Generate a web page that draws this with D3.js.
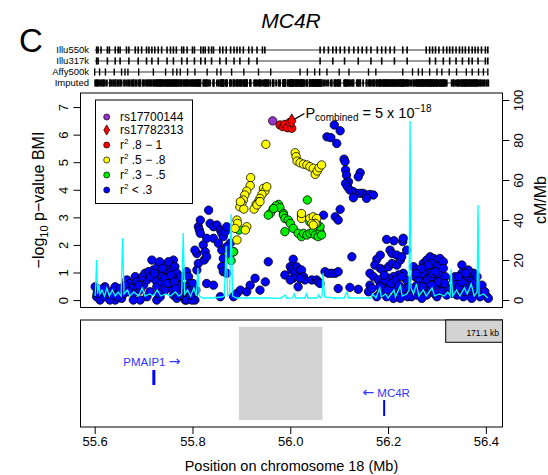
<!DOCTYPE html>
<html><head><meta charset="utf-8">
<script src="https://cdn.jsdelivr.net/npm/d3@7"></script>
<style>
html,body{margin:0;padding:0;background:#fff;}
svg{display:block;font-family:"Liberation Sans",Arial,Helvetica,sans-serif;}
</style></head>
<body>
<svg id="chart" width="548" height="475"></svg>
<script>
// ---------------- DATA ----------------
const title = "MC4R";
const panelLetter = "C";
const yTicks = [0,1,2,3,4,5,6,7];
const rateTicks = [0,20,40,60,80,100];
const xTicks = [55.6,55.8,56.0,56.2,56.4];
const legendLabels = ["rs17700144","rs17782313",".8 − 1",".5 − .8",".3 − .5","< .3"];
const trackNames = ["Illu550k","Illu317k","Affy500k","Imputed"];

// SNPs by LD class: [position Mb, -log10 p]
const snpBlue = [
[55.601,0.48],[55.608,0.36],[55.604,0.12],[55.611,0.00],[55.618,0.12],[55.625,0.30],[55.631,0.12],[55.638,0.36],[55.642,0.48],[55.649,0.24],
[55.655,0.06],[55.666,0.73],[55.672,0.60],[55.676,0.42],[55.679,0.24],[55.683,0.85],[55.686,0.66],[55.693,0.36],[55.700,0.54],[55.707,0.73],
[55.717,1.45],[55.720,1.09],[55.724,0.73],[55.727,0.48],[55.734,0.97],[55.737,0.66],[55.741,0.42],[55.747,1.03],[55.751,0.85],[55.754,1.15],
[55.758,1.33],[55.761,1.45],[55.764,1.21],[55.768,0.97],[55.771,0.73],[55.775,0.54],[55.778,0.30],[55.781,0.12],[55.785,0.00],[55.747,1.27],
[55.751,1.39],[55.744,0.36],[55.758,0.42],[55.761,0.18],[55.768,0.06],[55.788,1.03],[55.792,0.85],[55.795,0.60],[55.799,0.42],[55.802,0.24],
[55.805,0.00],[55.809,1.09],[55.812,1.33],[55.809,1.69],[55.805,1.81],[55.812,2.66],[55.816,2.90],[55.814,2.54],[55.816,2.42],[55.822,2.00],
[55.826,1.75],[55.824,1.45],[55.829,1.57],[55.833,3.26],[55.836,2.78],[55.843,2.66],[55.850,2.72],[55.857,2.54],[55.860,2.42],[55.863,2.30],
[55.867,2.48],[55.870,2.66],[55.829,2.24],[55.843,2.24],[55.853,2.06],[55.860,1.81],[55.863,1.51],[55.877,1.69],[55.884,1.75],[55.877,2.06],
[55.870,1.93],[55.860,1.21],[55.863,1.03],[55.870,0.97],[55.884,0.12],[55.891,0.24],[55.898,0.36],[55.911,0.30],[55.918,0.54],[55.928,0.79],
[55.938,0.36],[55.949,0.66],[55.955,1.39],[55.829,0.60],[55.843,0.54],[55.857,0.12],[55.788,0.00],[55.799,0.00],[55.727,0.00],[55.734,0.12],
[55.707,0.12],[55.693,0.00],[55.679,0.00],[55.642,0.00],[55.631,0.00],[55.614,0.30],[55.621,0.48],[55.646,0.12],[55.660,0.24],[55.690,0.54],
[55.713,0.30],[55.731,0.24],[55.754,0.60],[55.738,0.85],[55.772,0.18],
[55.698,0.85],[55.703,0.97],[55.710,1.03],[55.714,0.85],[55.722,0.97],[55.729,1.21],[55.733,1.39],[55.739,1.15],[55.744,0.79],[55.749,0.60],
[55.756,0.90],[55.763,0.66],[55.766,0.42],[55.776,0.85],[55.783,0.48],[55.790,0.30],[55.796,0.18],[55.801,0.60],[55.807,0.36],[55.662,0.54],
[55.669,0.30],[55.652,0.42],[55.635,0.18],[55.617,0.42],[55.605,0.24],
[56.006,1.48],[56.000,1.21],[56.003,1.09],[56.006,1.15],[56.010,1.03],[56.013,1.21],[56.020,1.09],[56.023,1.09],[56.027,0.85],[56.030,0.73],
[56.020,0.79],[56.006,0.79],[55.989,0.91],[56.000,0.73],[56.016,0.48],[56.044,0.73],[56.054,0.73],[56.057,0.66],[56.061,0.60],[56.071,1.03],
[56.078,0.97],[56.085,0.97],[56.092,0.97],[56.098,1.03],[56.098,0.42],[56.122,0.46],[56.139,0.39],[56.163,0.54],[56.160,0.30],[56.167,0.42],
[56.126,1.57],[56.068,3.08],[56.092,3.02],[56.098,2.90],[56.102,3.29],
[56.090,6.35],[56.102,6.14],[56.075,5.92],[56.083,5.89],[56.095,5.68],[56.110,5.11],[56.112,5.02],[56.113,4.72],[56.115,4.53],[56.119,4.29],
[56.113,4.23],[56.117,4.11],[56.122,3.99],[56.129,3.93],[56.136,3.87],[56.143,3.87],[56.149,3.87],[56.156,3.81],[56.163,3.83],[56.170,3.81],
[56.129,3.71],[56.156,3.69],[56.143,4.62],[56.139,4.47],
[56.163,0.97],[56.170,0.85],[56.177,1.48],[56.173,1.27],[56.184,1.63],[56.184,1.15],[56.190,1.09],[56.197,2.20],[56.201,1.21],[56.204,1.81],
[56.208,1.69],[56.208,1.33],[56.212,2.15],[56.218,1.63],[56.218,1.27],[56.225,1.45],[56.228,1.57],[56.230,2.12],[56.231,2.24],[56.238,1.81],
[56.180,0.73],[56.187,0.60],[56.194,0.54],[56.204,0.48],[56.214,0.36],[56.225,0.30],[56.235,0.24],[56.245,0.30],[56.238,0.73],[56.231,0.97],
[56.221,0.91],[56.211,0.85],[56.201,0.79],[56.194,0.73],[56.190,0.42],[56.184,0.24],[56.177,0.12],[56.197,0.12],[56.211,0.06],[56.225,0.06],
[56.183,0.48],[56.192,0.90],[56.199,0.36],[56.207,0.60],[56.216,0.73],[56.222,0.54],[56.228,0.85],[56.233,0.42],[56.240,0.12],[56.248,0.12],
[56.242,0.48],
[56.252,1.21],[56.259,1.09],[56.265,1.03],[56.272,1.33],[56.279,1.45],[56.286,1.57],[56.293,1.51],[56.300,1.45],[56.306,1.51],[56.313,1.39],
[56.300,1.21],[56.286,1.09],[56.279,0.97],[56.272,0.85],[56.265,0.66],[56.259,0.54],[56.252,0.42],[56.259,0.18],[56.272,0.36],[56.283,0.60],
[56.293,0.73],[56.300,0.85],[56.306,0.91],[56.313,1.15],[56.306,0.54],[56.296,0.42],[56.286,0.30],[56.279,0.18],[56.269,0.06],[56.300,0.12],
[56.313,0.36],[56.310,0.73],[56.317,0.85],[56.276,1.21],[56.289,1.33],
[56.255,0.85],[56.262,0.79],[56.268,0.97],[56.275,0.60],[56.281,0.73],[56.288,0.85],[56.291,0.97],[56.297,1.03],[56.303,0.66],[56.309,0.30],
[56.316,0.60],[56.320,0.18],[56.262,0.30],[56.270,0.48],[56.289,0.54],[56.295,0.24],[56.282,1.27],[56.268,1.15],[56.257,0.97],
[56.351,1.27],[56.375,0.97],[56.334,0.73],[56.341,0.60],[56.354,0.73],[56.361,0.85],[56.368,0.66],[56.378,0.54],[56.385,0.48],[56.347,0.36],
[56.358,0.42],[56.368,0.30],[56.381,0.24],[56.395,0.24],[56.402,0.12],[56.341,0.18],[56.354,0.12],[56.371,0.06],[56.330,0.42],[56.361,0.54],
[56.337,0.85],[56.388,0.12],[56.375,0.73],[56.351,0.97],[56.364,1.09],[56.381,0.42],[56.405,0.06],
[56.333,0.24],[56.345,0.48],[56.350,0.66],[56.357,0.30],[56.365,0.42],[56.372,0.54],[56.379,0.66],[56.389,0.36],[56.392,0.54],[56.398,0.30],
[56.344,0.85],[56.359,0.97],[56.382,0.85]
];
const snpGreen = [
[56.035,3.63],[55.976,3.47],[55.971,3.42],[55.979,3.35],[55.965,3.30],[55.959,3.14],[55.986,3.14],[55.986,3.08],[55.989,2.96],[55.996,2.90],
[56.000,2.78],[55.989,2.48],[56.006,2.60],[56.016,2.42],[56.023,2.30],[56.027,2.42],[56.034,2.36],[56.040,2.42],[56.047,2.48],[56.051,2.36],
[56.057,2.30],[56.061,2.48],[56.064,2.36],[56.061,2.66],[56.054,2.78],[56.047,2.90],[56.040,2.84],[55.884,1.75],[55.879,1.43],[55.895,2.54],
[55.955,3.08],[55.966,3.32]
];
const snpYellow = [
[55.950,5.65],[56.010,5.34],[56.012,5.20],[56.014,5.04],[56.020,4.98],[56.027,4.93],[56.034,4.90],[56.040,4.84],[56.047,4.78],[56.051,4.56],
[56.055,4.68],[56.059,4.80],[56.064,4.90],[55.919,4.44],[55.918,4.15],[55.911,3.95],[55.907,3.81],[55.904,3.63],[55.901,3.51],[55.897,3.38],
[55.905,3.30],[55.945,4.05],[55.948,3.95],[55.942,3.83],[55.938,3.69],[55.935,3.57],[55.930,3.47],[55.926,3.30],[55.952,4.11],[55.891,2.90],
[55.892,2.78],[55.911,2.66],[55.908,2.54],[55.891,2.18],[55.898,3.57],[55.932,3.45],[55.938,3.57],[55.887,2.60],[56.023,3.08],[56.023,2.96],
[56.040,2.96],[56.047,3.02],[56.054,2.96],[56.051,2.78],[56.044,2.78],[56.047,2.72],[56.023,3.14]
];
const snpRed = [[55.979,6.35],[55.985,6.29],[55.989,6.37],[55.994,6.25],[55.999,6.44],[56.003,6.23]];
const snpTop = [56.003,6.49];      // rs17782313 (diamond)
const snpPurple = [55.964,6.50];   // rs17700144
const annotation = {from:[56.003,6.49], to:[56.031,6.62]};

// Recombination rate: [position Mb, cM/Mb]
const recomb = [
[55.601,2],[55.604,20],[55.606,3],[55.609,8],[55.611,3],[55.615,5],[55.620,2],[55.625,6],[55.630,2],[55.636,5],[55.642,2],[55.648,4],[55.654,2],
[55.657,31],[55.660,3],[55.667,5],[55.672,2],[55.680,4],[55.690,2],[55.697,6],[55.703,2],[55.712,3],[55.720,2],[55.728,5],[55.735,2],[55.745,3],
[55.755,2],[55.765,4],[55.772,2],[55.778,3],[55.781,33.5],[55.784,3],[55.790,5],[55.796,2],[55.803,6],[55.808,2],[55.811,16],[55.814,2],[55.820,1],
[55.840,1],[55.860,1.5],[55.865,2],[55.869,27],[55.872,2],[55.876,3],[55.879,43],[55.882,2],[55.890,1],[55.920,1],[55.950,1],[55.980,0.8],[55.990,2.5],
[55.993,0.8],[56.005,1],[56.008,3],[56.011,1],[56.030,1],[56.033,3],[56.036,1],[56.055,1],[56.058,2.5],[56.061,1],[56.065,2],[56.067,13.5],[56.070,1.5],
[56.090,1],[56.110,1],[56.116,4],[56.119,1],[56.150,1],[56.165,1],[56.168,3],[56.175,1],[56.183,6],[56.186,1.5],[56.195,3],[56.200,1],[56.212,5],
[56.215,1.5],[56.225,7],[56.229,2],[56.238,3],[56.243,5],[56.245,89.5],[56.247,6],[56.252,3],[56.258,8],[56.263,2],[56.272,5],[56.278,2],[56.290,6],
[56.295,2],[56.305,3],[56.315,2],[56.322,4],[56.327,2],[56.329,15.5],[56.332,2],[56.340,5],[56.347,2],[56.356,6],[56.362,3],[56.370,8],[56.376,2],
[56.382,4],[56.384,47.5],[56.386,2],[56.395,3],[56.404,1]
];

// Genotyping platform coverage (SNP positions, Mb)
const illu550k = [55.604,55.607,55.613,55.626,55.630,55.642,55.648,55.652,55.665,55.670,55.683,55.689,55.696,55.706,55.711,55.717,55.723,55.730,55.737,
55.748,55.755,55.761,55.767,55.778,55.782,55.789,55.800,55.804,55.817,55.822,55.826,55.833,55.839,55.843,55.856,55.862,55.869,55.878,55.885,55.891,
55.897,55.904,55.915,55.922,55.932,55.943,55.948,56.061,56.069,56.078,56.087,56.094,56.102,56.111,56.120,56.130,56.139,56.147,56.156,56.165,56.178,
56.187,56.195,56.204,56.213,56.230,56.239,56.278,56.285,56.291,56.297,56.304,56.313,56.320,56.326,56.332,56.339,56.346,56.352,56.358,56.365,56.372,
56.378,56.384,56.391,56.399,56.404];
const illu317k = [55.604,55.607,55.626,55.642,55.652,55.670,55.689,55.706,55.717,55.730,55.748,55.761,55.778,55.789,55.804,55.817,55.826,55.839,55.856,
55.869,55.885,55.897,55.915,55.932,56.061,56.087,56.111,56.139,56.165,56.187,56.213,56.239,56.285,56.297,56.313,56.326,56.339,56.352,56.365,56.372,
56.384,56.399,56.404];
const affy500k = [55.600,55.610,55.622,55.640,55.655,55.662,55.668,55.690,55.720,55.745,55.760,55.768,55.775,55.790,55.805,55.830,55.850,55.858,55.880,
55.905,55.935,55.960,56.020,56.035,56.050,56.060,56.075,56.100,56.120,56.160,56.175,56.230,56.250,56.262,56.270,56.285,56.300,56.310,56.325,56.340,
56.360,56.372,56.385,56.395,56.404];

// Gene panel
const genes = [{name:"PMAIP1", pos:55.721, strand:"+", row:0},{name:"MC4R", pos:56.192, strand:"-", row:1}];
const ldRegion = [55.895, 56.066];
const regionLabel = "171.1 kb";

// ---------------- DRAWING ----------------
const svg = d3.select("#chart");
const L = 80.5, R = 502.5, T = 93, B = 307.5, GT = 320, GB = 427;
const x = d3.scaleLinear().domain([55.571, 56.434]).range([L, R]);
const y = d3.scaleLinear().domain([-0.27, 7.51]).range([B, T]);
const yr = d3.scaleLinear().domain([-3.75, 103.5]).range([B, T]);

// panel letter and title
svg.append("text").attr("x",19).attr("y",52).attr("font-size",33).text(panelLetter);
svg.append("text").attr("x",291).attr("y",28).attr("text-anchor","middle").attr("font-size",21)
  .attr("font-style","italic").text(title);

// tracks
const allSnps = [...snpBlue,...snpGreen,...snpYellow,...snpRed,snpTop,snpPurple].map(d=>d[0]);
const trackData = [illu550k, illu317k, affy500k, allSnps];
const trackY = [50, 61, 72, 83];
const trackW = [1.6, 1.6, 1.4, 1.8];
trackData.forEach((arr,i)=>{
  const g = svg.append("g");
  g.append("text").attr("x",89).attr("y",trackY[i]+3.3).attr("text-anchor","end").attr("font-size",9.5).text(trackNames[i]);
  g.append("line").attr("x1",x(55.600)).attr("x2",x(56.404)).attr("y1",trackY[i]).attr("y2",trackY[i]).attr("stroke","#000").attr("stroke-width",0.8);
  g.selectAll("line.t").data(arr).join("line").attr("class","t")
    .attr("x1",d=>x(d)).attr("x2",d=>x(d)).attr("y1",trackY[i]-3.6).attr("y2",trackY[i]+3.6)
    .attr("stroke","#000").attr("stroke-width",trackW[i]);
});

// main panel clip
svg.append("clipPath").attr("id","clipMain").append("rect").attr("x",L).attr("y",T).attr("width",R-L).attr("height",B-T);
const main = svg.append("g").attr("clip-path","url(#clipMain)");

function drawPts(data, fill){
  main.append("g").selectAll("circle").data(data).join("circle")
    .attr("cx",d=>x(d[0])).attr("cy",d=>y(d[1])).attr("r",4.2)
    .attr("fill",fill).attr("stroke","#000").attr("stroke-width",0.8);
}
drawPts(snpBlue, "#0000ff");
drawPts(snpGreen, "#00ee00");
drawPts(snpYellow, "#ffff00");
drawPts(snpRed, "#ff0000");
drawPts([snpPurple], "#9932cc");
main.append("path").attr("d", d3.symbol(d3.symbolDiamond, 60)())
  .attr("transform",`translate(${x(snpTop[0])},${y(snpTop[1])})`).attr("fill","#ff0000").attr("stroke","#000").attr("stroke-width",0.8);

// recombination line
main.append("path").datum(recomb)
  .attr("d", d3.line().x(d=>x(d[0])).y(d=>yr(d[1])))
  .attr("fill","none").attr("stroke","#00ffff").attr("stroke-width",1.3);

// panel border
svg.append("rect").attr("x",L).attr("y",T).attr("width",R-L).attr("height",B-T).attr("fill","none").attr("stroke","#000").attr("stroke-width",1);

// annotation
svg.append("line").attr("x1",x(annotation.from[0])+3).attr("y1",y(annotation.from[1])-2)
  .attr("x2",x(annotation.to[0])-1).attr("y2",y(annotation.to[1])-4).attr("stroke","#000").attr("stroke-width",1.2);
const at = svg.append("text").attr("x",x(annotation.to[0])).attr("y",y(annotation.to[1])).attr("font-size",14.5);
at.append("tspan").text("P");
at.append("tspan").attr("dy",3).attr("font-size",10).text("combined");
at.append("tspan").attr("dy",-3).text(" = 5 x 10");
at.append("tspan").attr("dy",-6).attr("font-size",10).text("−18");

// legend
const lg = svg.append("g");
lg.append("rect").attr("x",95.5).attr("y",100).attr("width",97).attr("height",103.5).attr("fill","#fff").attr("stroke","#000").attr("stroke-width",1);
const legRows = [117,130,145,160,175,190];
const legFill = ["#9932cc","#ff0000","#ff0000","#ffff00","#00ee00","#0000ff"];
legRows.forEach((ry,i)=>{
  if(i===1){
    lg.append("path").attr("d", d3.symbol(d3.symbolDiamond, 30)()).attr("transform",`translate(106.7,${ry})`)
      .attr("fill",legFill[i]).attr("stroke","#000").attr("stroke-width",0.7);
  } else {
    lg.append("circle").attr("cx",106.7).attr("cy",ry).attr("r",3).attr("fill",legFill[i]).attr("stroke","#000").attr("stroke-width",0.7);
  }
  const t = lg.append("text").attr("x",120).attr("y",ry+4).attr("font-size",12);
  if(i<2){ t.text(legendLabels[i]); }
  else {
    t.append("tspan").text("r");
    t.append("tspan").attr("dy",-5).attr("font-size",8).text("2");
    t.append("tspan").attr("dy",5).text(" " + legendLabels[i]);
  }
});

// left axis
const ax = svg.append("g").attr("transform",`translate(${L},0)`)
  .call(d3.axisLeft(y).tickValues(yTicks).tickSize(7).tickFormat(d3.format("d")));
ax.select(".domain").remove();
ax.selectAll("text").attr("x",0).attr("dy",0).attr("text-anchor","middle").attr("font-size",13)
  .attr("font-family","Liberation Sans, Arial, sans-serif").attr("fill","#000")
  .attr("transform","translate(-13,0) rotate(-90)");
ax.selectAll("line").attr("stroke","#000");

// right axis
const axr = svg.append("g").attr("transform",`translate(${R},0)`)
  .call(d3.axisRight(yr).tickValues(rateTicks).tickSize(7).tickFormat(d3.format("d")));
axr.select(".domain").remove();
axr.selectAll("text").attr("x",0).attr("dy",0).attr("text-anchor","middle").attr("font-size",13)
  .attr("font-family","Liberation Sans, Arial, sans-serif").attr("fill","#000")
  .attr("transform","translate(20,0) rotate(-90)");
axr.selectAll("line").attr("stroke","#000");

// axis titles
const ylab = svg.append("text").attr("transform","translate(44,200) rotate(-90)").attr("text-anchor","middle").attr("font-size",16);
ylab.append("tspan").text("−log");
ylab.append("tspan").attr("dy",4).attr("font-size",11).text("10");
ylab.append("tspan").attr("dy",-4).text(" p−value BMI");
svg.append("text").attr("transform","translate(546,200) rotate(-90)").attr("text-anchor","middle").attr("font-size",16).text("cM/Mb");

// gene panel
svg.append("rect").attr("x",x(ldRegion[0])).attr("y",326.7).attr("width",x(ldRegion[1])-x(ldRegion[0])).attr("height",93.3).attr("fill","#d3d3d3");
svg.append("rect").attr("x",L).attr("y",GT).attr("width",R-L).attr("height",GB-GT).attr("fill","none").attr("stroke","#000").attr("stroke-width",1);
svg.append("rect").attr("x",445.7).attr("y",GT).attr("width",R-445.7).attr("height",22.3).attr("fill","#d3d3d3").attr("stroke","#000").attr("stroke-width",1);
svg.append("text").attr("x",499).attr("y",335.5).attr("text-anchor","end").attr("font-size",8.5).text(regionLabel);

const geneRowText = [366, 397], geneRowBar = [[370,385],[400,416]];
genes.forEach(g=>{
  svg.append("line").attr("x1",x(g.pos)).attr("x2",x(g.pos)).attr("y1",geneRowBar[g.row][0]).attr("y2",geneRowBar[g.row][1])
    .attr("stroke","#0000ff").attr("stroke-width", g.row===0?3:2);
  const t = svg.append("text").attr("x",x(g.pos)+(g.strand==="+"?-2:2)).attr("y",geneRowText[g.row]).attr("text-anchor","middle")
    .attr("font-size",11.5).attr("fill","#3333ff");
  if(g.strand==="+"){
    t.append("tspan").text(g.name+" ");
    t.append("tspan").attr("font-family","DejaVu Sans").attr("font-size",14).text("→");
  } else {
    t.append("tspan").attr("font-family","DejaVu Sans").attr("font-size",14).text("←");
    t.append("tspan").text(" "+g.name);
  }
});

// x axis
const axb = svg.append("g").attr("transform",`translate(0,${GB})`)
  .call(d3.axisBottom(x).tickValues(xTicks).tickSize(7).tickFormat(d3.format(".1f")));
axb.select(".domain").remove();
axb.selectAll("text").attr("font-size",13).attr("font-family","Liberation Sans, Arial, sans-serif").attr("fill","#000").attr("dy","0.71em").attr("y",10);
axb.selectAll("line").attr("stroke","#000");
svg.append("text").attr("x",291.5).attr("y",471).attr("text-anchor","middle").attr("font-size",14.5).text("Position on chromosome 18 (Mb)");
</script>
</body></html>
